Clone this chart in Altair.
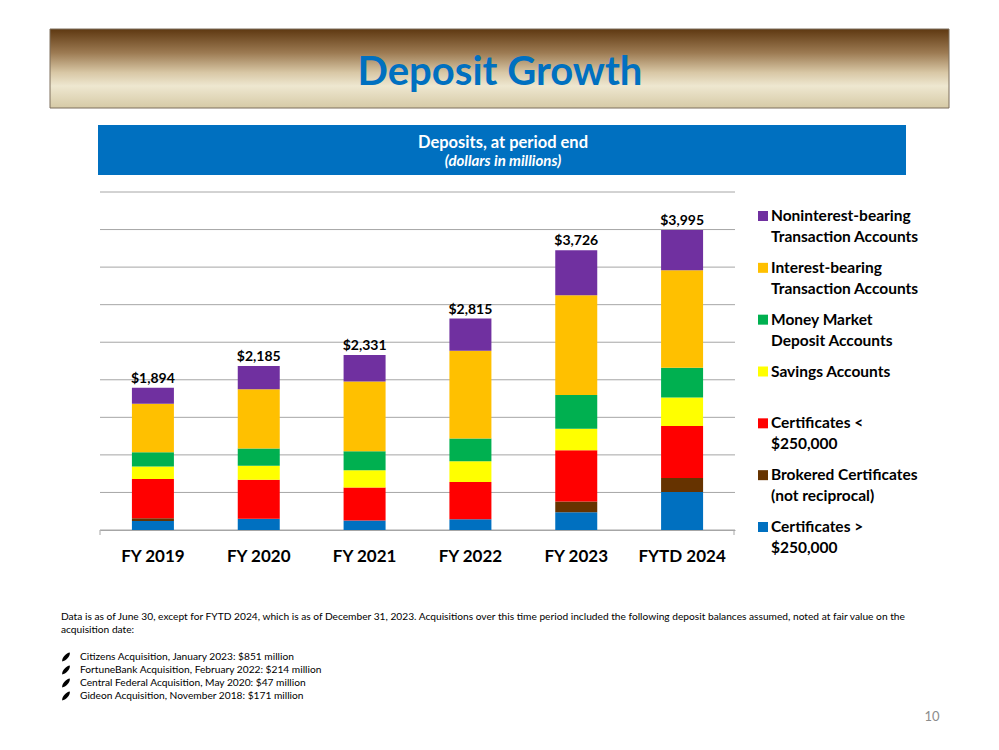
import altair as alt
import pandas as pd

FONT = "Lato"

PERIODS = ["FY 2019", "FY 2020", "FY 2021", "FY 2022", "FY 2023", "FYTD 2024"]

# Deposit balances by account type, $ millions (listed bottom of stack to top)
CERT_OVER_250K = [120, 147, 125, 143, 237, 505]
BROKERED_CERTS = [36, 4, 2, 0, 142, 187]
CERT_UNDER_250K = [522, 518, 440, 495, 683, 691]
SAVINGS = [169, 187, 228, 276, 287, 380]
MONEY_MARKET = [187, 228, 254, 304, 450, 396]
INTEREST_BEARING = [648, 790, 929, 1170, 1327, 1300]
NONINTEREST = [212, 311, 353, 427, 600, 536]

SERIES_VALUES = [CERT_OVER_250K, BROKERED_CERTS, CERT_UNDER_250K, SAVINGS,
                 MONEY_MARKET, INTEREST_BEARING, NONINTEREST]
SERIES_LINES = [
    ["Certificates >", "$250,000"],
    ["Brokered Certificates", "(not reciprocal)"],
    ["Certificates <", "$250,000"],
    ["Savings Accounts"],
    ["Money Market", "Deposit Accounts"],
    ["Interest-bearing", "Transaction Accounts"],
    ["Noninterest-bearing", "Transaction Accounts"],
]
SERIES_COLORS = ["#0070c0", "#663300", "#ff0000", "#ffff00",
                 "#00b050", "#ffc000", "#7030a0"]
SERIES_NAMES = [" ".join(lines) for lines in SERIES_LINES]

GRID_VALUES = list(range(0, 4501, 500))

TITLE = "Deposit Growth"
SUBTITLE = "Deposits, at period end"
SUBTITLE_UNITS = "(dollars in millions)"
FOOTNOTE = [
    "Data is as of June 30, except for FYTD 2024, which is as of December 31, 2023.  "
    "Acquisitions over this time period included the following deposit balances assumed, "
    "noted at fair value on the",
    "acquisition date:",
]
ACQ_NAMES = ["Citizens Acquisition", "FortuneBank Acquisition",
             "Central Federal Acquisition", "Gideon Acquisition"]
ACQ_DATES = ["January 2023", "February 2022", "May 2020", "November 2018"]
ACQ_AMOUNTS = [851, 214, 47, 171]
PAGE_NUMBER = "10"

# ---- tables -------------------------------------------------------------
rows = []
for i, period in enumerate(PERIODS):
    for k, (name, vals) in enumerate(zip(SERIES_NAMES, SERIES_VALUES)):
        rows.append({"period": period, "series": name, "value": vals[i], "stack": k})
df = pd.DataFrame(rows)

legend_df = pd.DataFrame({
    "series": SERIES_NAMES[::-1],
    "label": ["|".join(lines) for lines in SERIES_LINES[::-1]],
})

acq_df = pd.DataFrame({
    "row": list(range(len(ACQ_NAMES))),
    "label": [f"{n}, {d}: ${a} million" for n, d, a in zip(ACQ_NAMES, ACQ_DATES, ACQ_AMOUNTS)],
})

grid_df = pd.DataFrame({"level": GRID_VALUES})
one = pd.DataFrame({"k": [0]})

W, H = 635, 338
color_scale = alt.Scale(domain=SERIES_NAMES, range=SERIES_COLORS)
y_scale = alt.Scale(domain=[0, 4500], nice=False)
GRID = "#a6a6a6"

# ---- stacked bars + totals ------------------------------------------------
x_enc = alt.X(
    "period:N", sort=PERIODS,
    scale=alt.Scale(paddingInner=0, paddingOuter=0),
    axis=alt.Axis(title=None, labelAngle=0, labelFont=FONT, labelFontSize=17,
                  labelFontWeight="bold", labelColor="#000000", labelPadding=18,
                  ticks=False, domainColor=GRID, grid=False),
)

gridlines = alt.Chart(grid_df).mark_rule(color=GRID, strokeWidth=1).encode(
    y=alt.Y("level:Q", scale=y_scale, axis=None),
    x=alt.value(0), x2=alt.value(W),
)

bars = alt.Chart(df).mark_bar(size=42).encode(
    x=x_enc,
    y=alt.Y("value:Q", stack="zero", scale=y_scale, axis=None),
    color=alt.Color("series:N", scale=color_scale, legend=None),
    order=alt.Order("stack:Q", sort="ascending"),
)

totals = alt.Chart(df).transform_aggregate(
    total="sum(value)", groupby=["period"]
).mark_text(font=FONT, fontSize=14, fontWeight="bold", color="#000000",
            baseline="alphabetic", dy=-5).encode(
    x=alt.X("period:N", sort=PERIODS),
    y=alt.Y("total:Q", scale=y_scale, axis=None),
    text=alt.Text("total:Q", format="$,.0f"),
)

end_tick_l = alt.Chart(one).mark_rule(color=GRID).encode(
    x=alt.value(0), y=alt.value(H), y2=alt.value(H + 5)
)
end_tick_r = alt.Chart(one).mark_rule(color=GRID).encode(
    x=alt.value(W - 1), y=alt.value(H), y2=alt.value(H + 5)
)

core = alt.layer(gridlines, bars, totals)

# ---- legend ---------------------------------------------------------------
legend_y = alt.Y("series:N", sort=SERIES_NAMES[::-1],
                 scale=alt.Scale(range=[24, 335], padding=0), axis=None)
legend_marks = alt.Chart(legend_df).mark_square(size=100, opacity=1).encode(
    x=alt.value(663), y=legend_y,
    color=alt.Color("series:N", scale=color_scale, legend=None),
)
legend_text = alt.Chart(legend_df).mark_text(
    font=FONT, fontSize=15.5, fontWeight="bold", color="#000000", align="left",
    baseline="alphabetic", dy=5, lineBreak="|", lineHeight=21,
).encode(x=alt.value(671), y=legend_y, text="label:N")
legend = alt.layer(legend_marks, legend_text)

# ---- header ---------------------------------------------------------------
banner_fill = alt.LinearGradient(
    gradient="linear", x1=0, x2=0, y1=0, y2=1,
    stops=[alt.GradientStop(color="#5e3811", offset=0),
           alt.GradientStop(color="#9c7a52", offset=0.3),
           alt.GradientStop(color="#d8c7a5", offset=0.55),
           alt.GradientStop(color="#eee7d0", offset=0.72),
           alt.GradientStop(color="#d6caa6", offset=1)],
)
banner = alt.Chart(one).mark_rect(fill=banner_fill, stroke="#7d6f5c", strokeWidth=1).encode(
    x=alt.value(-50), x2=alt.value(849), y=alt.value(-163), y2=alt.value(-84)
)
title = alt.Chart(one).mark_text(
    text=TITLE, font=FONT, fontSize=40, fontWeight="bold", color="#0070c0",
    align="center", baseline="alphabetic",
).encode(x=alt.value(400), y=alt.value(-107))

sub_box = alt.Chart(one).mark_rect(fill="#0070c0").encode(
    x=alt.value(-2), x2=alt.value(806), y=alt.value(-67), y2=alt.value(-17)
)
sub_text = alt.Chart(one).mark_text(
    text=SUBTITLE, font=FONT, fontSize=16.5, fontWeight="bold", color="#ffffff",
    align="center", baseline="alphabetic",
).encode(x=alt.value(403), y=alt.value(-44))
sub_units = alt.Chart(one).mark_text(
    text=SUBTITLE_UNITS, font=FONT, fontSize=15, fontWeight="bold", fontStyle="italic",
    color="#ffffff", align="center", baseline="alphabetic",
).encode(x=alt.value(403), y=alt.value(-26))

# ---- footnotes ------------------------------------------------------------
note = alt.Chart(one).mark_text(
    text=FOOTNOTE, font=FONT, fontSize=10.2, color="#000000", align="left",
    baseline="alphabetic", lineHeight=13,
).encode(x=alt.value(-39), y=alt.value(428))

LEAF = "M-0.85,1 C-1,0.1 0.1,-0.9 0.85,-1 C1,-0.1 -0.1,0.9 -0.85,1 Z"
acq_y = alt.Y("row:O", scale=alt.Scale(range=[465, 504], padding=0), axis=None)
bullets = alt.Chart(acq_df).mark_point(
    shape=LEAF, filled=True, color="#000000", size=80, opacity=1
).encode(x=alt.value(-34), y=acq_y)
acq_text = alt.Chart(acq_df).mark_text(
    font=FONT, fontSize=10.2, color="#000000", align="left", baseline="middle",
).encode(x=alt.value(-20), y=acq_y, text="label:N")
acquisitions = alt.layer(bullets, acq_text)

page = alt.Chart(one).mark_text(
    text=PAGE_NUMBER, font=FONT, fontSize=13, color="#8c8c8c",
    align="center", baseline="middle",
).encode(x=alt.value(832), y=alt.value(525))

chart = alt.layer(
    banner, title, sub_box, sub_text, sub_units,
    core, end_tick_l, end_tick_r, legend, note, acquisitions, page,
).resolve_scale(y="independent").properties(
    width=W, height=H,
    padding={"left": 100, "top": 192, "right": 264, "bottom": 220},
    autosize=alt.AutoSizeParams(type="none"),
    background="#ffffff",
).configure_view(stroke=None)

chart.save("out.html", embed_options={"renderer": "svg", "actions": False})
